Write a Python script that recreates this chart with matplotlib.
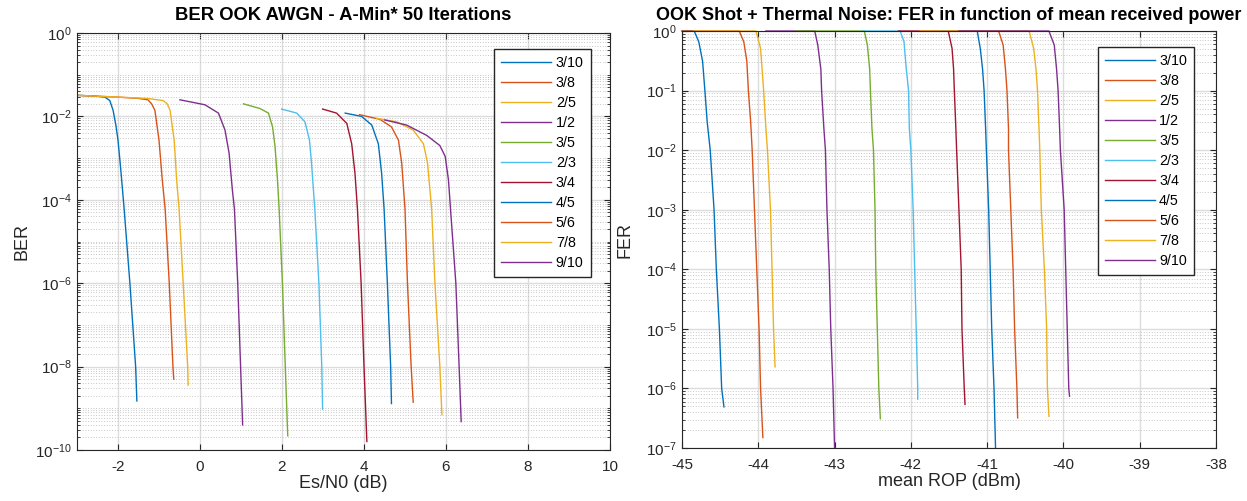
import matplotlib
matplotlib.use('Agg')
import matplotlib.pyplot as plt
from matplotlib.ticker import LogLocator, NullFormatter, MultipleLocator

plt.rcParams['font.family'] = ['Liberation Sans', 'DejaVu Sans']
plt.rcParams['mathtext.fontset'] = 'custom'
plt.rcParams['mathtext.rm'] = 'Liberation Sans'
plt.rcParams['mathtext.it'] = 'Liberation Sans'
plt.rcParams['axes.unicode_minus'] = False

COLORS = ['#0072BD', '#D95319', '#EDB120', '#7E2F8E', '#77AC30', '#4DBEEE',
          '#A2142F', '#0072BD', '#D95319', '#EDB120', '#7E2F8E']
RATES = ['3/10', '3/8', '2/5', '1/2', '3/5', '2/3', '3/4', '4/5', '5/6', '7/8', '9/10']

# ---- left: BER vs Es/N0 (dB)
ber_x = [
    [-3.0, -2.6, -2.32, -2.2, -2.12, -2.05, -2.0, -1.93, -1.85, -1.71, -1.57, -1.54],
    [-3.0, -2.0, -1.5, -1.27, -1.18, -1.1, -1.0, -0.92, -0.85, -0.75, -0.66, -0.64],
    [-3.0, -2.0, -1.3, -0.9, -0.8, -0.73, -0.63, -0.57, -0.51, -0.41, -0.30, -0.29],
    [-0.49, 0.12, 0.45, 0.61, 0.71, 0.79, 0.84, 0.92, 0.99, 1.04],
    [1.06, 1.46, 1.67, 1.77, 1.83, 1.89, 1.93, 2.01, 2.08, 2.14],
    [1.99, 2.36, 2.56, 2.67, 2.72, 2.80, 2.90, 2.97, 2.99],
    [2.99, 3.33, 3.58, 3.70, 3.78, 3.84, 3.93, 4.0, 4.07],
    [3.54, 3.94, 4.19, 4.35, 4.43, 4.49, 4.57, 4.65, 4.67],
    [3.89, 4.39, 4.67, 4.84, 4.92, 5.0, 5.06, 5.15, 5.20],
    [4.31, 4.80, 5.2, 5.45, 5.55, 5.65, 5.73, 5.85, 5.90],
    [4.51, 5.04, 5.53, 5.85, 5.98, 6.06, 6.11, 6.24, 6.32, 6.37],
]
ber_y = [
    [3.2e-2, 3.1e-2, 2.9e-2, 2.4e-2, 1.4e-2, 6e-3, 2.7e-3, 5e-4, 6e-5, 1e-6, 1e-8, 1.5e-9],
    [3.2e-2, 2.9e-2, 2.7e-2, 2.5e-2, 2.0e-2, 1.4e-2, 2.7e-3, 3e-4, 6e-5, 1e-6, 1e-8, 5e-9],
    [3.2e-2, 2.9e-2, 2.7e-2, 2.4e-2, 2.0e-2, 1.4e-2, 2.7e-3, 3e-4, 6e-5, 1e-6, 1e-8, 3.6e-9],
    [2.5e-2, 1.9e-2, 1.2e-2, 4.7e-3, 1.3e-3, 1.7e-4, 6e-5, 1e-6, 1e-8, 4e-10],
    [2e-2, 1.55e-2, 1.2e-2, 5.6e-3, 1.9e-3, 3e-4, 6e-5, 1e-6, 1e-8, 2.2e-10],
    [1.5e-2, 1.2e-2, 7.4e-3, 2.7e-3, 7.6e-4, 6e-5, 1e-6, 1e-8, 9.5e-10],
    [1.5e-2, 1.2e-2, 6.8e-3, 2.2e-3, 4.3e-4, 6e-5, 1e-6, 1e-8, 1.6e-10],
    [1.2e-2, 1e-2, 6.2e-3, 2.2e-3, 4.3e-4, 6e-5, 1e-6, 1e-8, 1.3e-9],
    [1.1e-2, 8.5e-3, 5.6e-3, 2.7e-3, 7.6e-4, 6e-5, 1e-6, 1e-8, 1.4e-9],
    [9e-3, 7.4e-3, 4.7e-3, 2.2e-3, 7.6e-4, 6e-5, 1e-6, 1e-8, 7e-10],
    [8.2e-3, 6.2e-3, 3.5e-3, 2e-3, 1.1e-3, 3e-4, 6e-5, 1e-6, 1e-8, 4.8e-10],
]
ber_yticks = [1e-10, 1e-8, 1e-6, 1e-4, 1e-2, 1]

# ---- right: FER vs mean ROP (dBm)
fer_x = [
    [-45.0, -44.84, -44.78, -44.73, -44.70, -44.67, -44.63, -44.58, -44.55, -44.51, -44.48, -44.45],
    [-45.0, -44.25, -44.19, -44.15, -44.13, -44.10, -44.08, -44.05, -44.02, -43.99, -43.97, -43.94],
    [-44.85, -44.03, -43.97, -43.95, -43.93, -43.90, -43.88, -43.84, -43.82, -43.80, -43.78],
    [-43.9, -43.26, -43.22, -43.18, -43.17, -43.14, -43.12, -43.10, -43.07, -43.05, -43.02, -43.0],
    [-43.5, -42.61, -42.57, -42.54, -42.53, -42.51, -42.49, -42.47, -42.46, -42.44, -42.42, -42.40],
    [-42.63, -42.14, -42.09, -42.06, -42.03, -42.02, -42.0, -41.97, -41.95, -41.93, -41.91, -41.91],
    [-42.16, -41.51, -41.46, -41.44, -41.43, -41.41, -41.40, -41.37, -41.34, -41.33, -41.30, -41.29],
    [-41.6, -41.13, -41.09, -41.06, -41.04, -41.02, -41.01, -40.98, -40.96, -40.94, -40.91, -40.89],
    [-41.5, -40.85, -40.79, -40.76, -40.74, -40.72, -40.72, -40.69, -40.66, -40.64, -40.61, -40.60],
    [-41.88, -40.45, -40.39, -40.36, -40.34, -40.32, -40.31, -40.29, -40.25, -40.22, -40.21, -40.19],
    [-41.37, -40.19, -40.12, -40.09, -40.07, -40.05, -40.04, -39.99, -39.97, -39.95, -39.93, -39.92],
]
fer_y = [
    [1, 1, 0.66, 0.31, 0.1, 0.03, 1e-2, 1e-3, 1e-4, 1e-5, 1e-6, 4.9e-7],
    [1, 1, 0.66, 0.31, 0.1, 0.03, 1e-2, 1e-3, 1e-4, 1e-5, 1e-6, 1.5e-7],
    [1, 1, 0.51, 0.23, 0.1, 0.023, 1e-2, 1e-3, 1e-4, 1e-5, 2.3e-6],
    [1, 1, 0.58, 0.23, 0.1, 0.023, 1e-2, 1e-3, 1e-4, 1e-5, 1e-6, 1e-7],
    [1, 1, 0.58, 0.23, 0.1, 0.023, 1e-2, 1e-3, 1e-4, 1e-5, 1e-6, 3.1e-7],
    [1, 1, 0.66, 0.23, 0.1, 0.023, 1e-2, 1e-3, 1e-4, 1e-5, 1e-6, 6.6e-7],
    [1, 1, 0.51, 0.23, 0.1, 0.023, 1e-2, 1e-3, 1e-4, 1e-5, 1e-6, 5.4e-7],
    [1, 1, 0.51, 0.23, 0.1, 0.023, 1e-2, 1e-3, 1e-4, 1e-5, 1e-6, 1e-7],
    [1, 1, 0.58, 0.23, 0.1, 0.023, 1e-2, 1e-3, 1e-4, 1e-5, 1e-6, 3.2e-7],
    [1, 1, 0.51, 0.23, 0.1, 0.023, 1e-2, 1e-3, 1e-4, 1e-5, 1e-6, 3.4e-7],
    [1, 1, 0.58, 0.23, 0.1, 0.023, 1e-2, 1e-3, 1e-4, 1e-5, 1e-6, 7.4e-7],
]
fer_yticks = [1e-7, 1e-6, 1e-5, 1e-4, 1e-3, 1e-2, 1e-1, 1]

AX_COL = '#262626'


def style(ax, xmaj, yticks):
    ax.set_yscale('log')
    ax.xaxis.set_major_locator(MultipleLocator(xmaj))
    ax.set_yticks(yticks)
    ax.yaxis.set_minor_locator(LogLocator(base=10, subs=range(1, 10), numticks=100))
    ax.yaxis.set_minor_formatter(NullFormatter())
    ax.grid(True, which='major', color='#dcdcdc', lw=1.0, ls='-')
    ax.grid(True, which='minor', axis='y', color='#b5b5b5', lw=0.6, ls=(0, (1, 2.2)))
    ax.set_axisbelow(True)
    ax.tick_params(which='both', direction='in', top=True, right=True,
                   colors=AX_COL, labelsize=11, labelcolor=AX_COL)
    ax.tick_params(axis='x', which='major', length=4, pad=7)
    ax.tick_params(axis='y', which='major', length=4, pad=4)
    ax.tick_params(which='minor', length=2)
    for s in ax.spines.values():
        s.set_color(AX_COL)
        s.set_linewidth(0.8)


fig = plt.figure(figsize=(12.47, 5.01), dpi=100)
ax1 = fig.add_axes([77 / 1247, 51 / 501, 533 / 1247, 417 / 501])
ax2 = fig.add_axes([682 / 1247, 53 / 501, 534 / 1247, 417 / 501])

for xs, ys, c, lab in zip(ber_x, ber_y, COLORS, RATES):
    ax1.plot(xs, ys, color=c, lw=1.0, label=lab)
style(ax1, 2, ber_yticks)
ax1.set_xlim(-3, 10)
ax1.set_ylim(1e-10, 1)
ax1.set_title('BER OOK AWGN - A-Min* 50 Iterations', fontsize=13.3, fontweight='bold', pad=9)
ax1.set_xlabel('Es/N0 (dB)', fontsize=13, color=AX_COL, labelpad=1)
ax1.set_ylabel('BER', fontsize=13, color=AX_COL)
ax1.yaxis.set_label_coords(-0.088, 0.5)

for xs, ys, c, lab in zip(fer_x, fer_y, COLORS, RATES):
    ax2.plot(xs, ys, color=c, lw=1.0, label=lab, clip_on=False)
style(ax2, 1, fer_yticks)
ax2.set_xlim(-45, -38)
ax2.set_ylim(1e-7, 1)
ax2.set_title('OOK Shot + Thermal Noise: FER in function of mean received power',
              fontsize=13, fontweight='bold', pad=8)
ax2.set_xlabel('mean ROP (dBm)', fontsize=13, color=AX_COL, labelpad=1)
ax2.set_ylabel('FER', fontsize=13, color=AX_COL)
ax2.yaxis.set_label_coords(-0.09, 0.5)

for ax, anchor in ((ax1, (0.964, 0.962)), (ax2, (0.959, 0.962))):
    leg = ax.legend(loc='upper right', bbox_to_anchor=anchor, borderaxespad=0,
                    fontsize=10.3, handlelength=3.5, handletextpad=0.3,
                    labelspacing=0.42, fancybox=False, framealpha=1,
                    edgecolor=AX_COL, borderpad=0.5)
    leg.get_frame().set_linewidth(1.0)

fig.savefig('out.png', dpi=100)
